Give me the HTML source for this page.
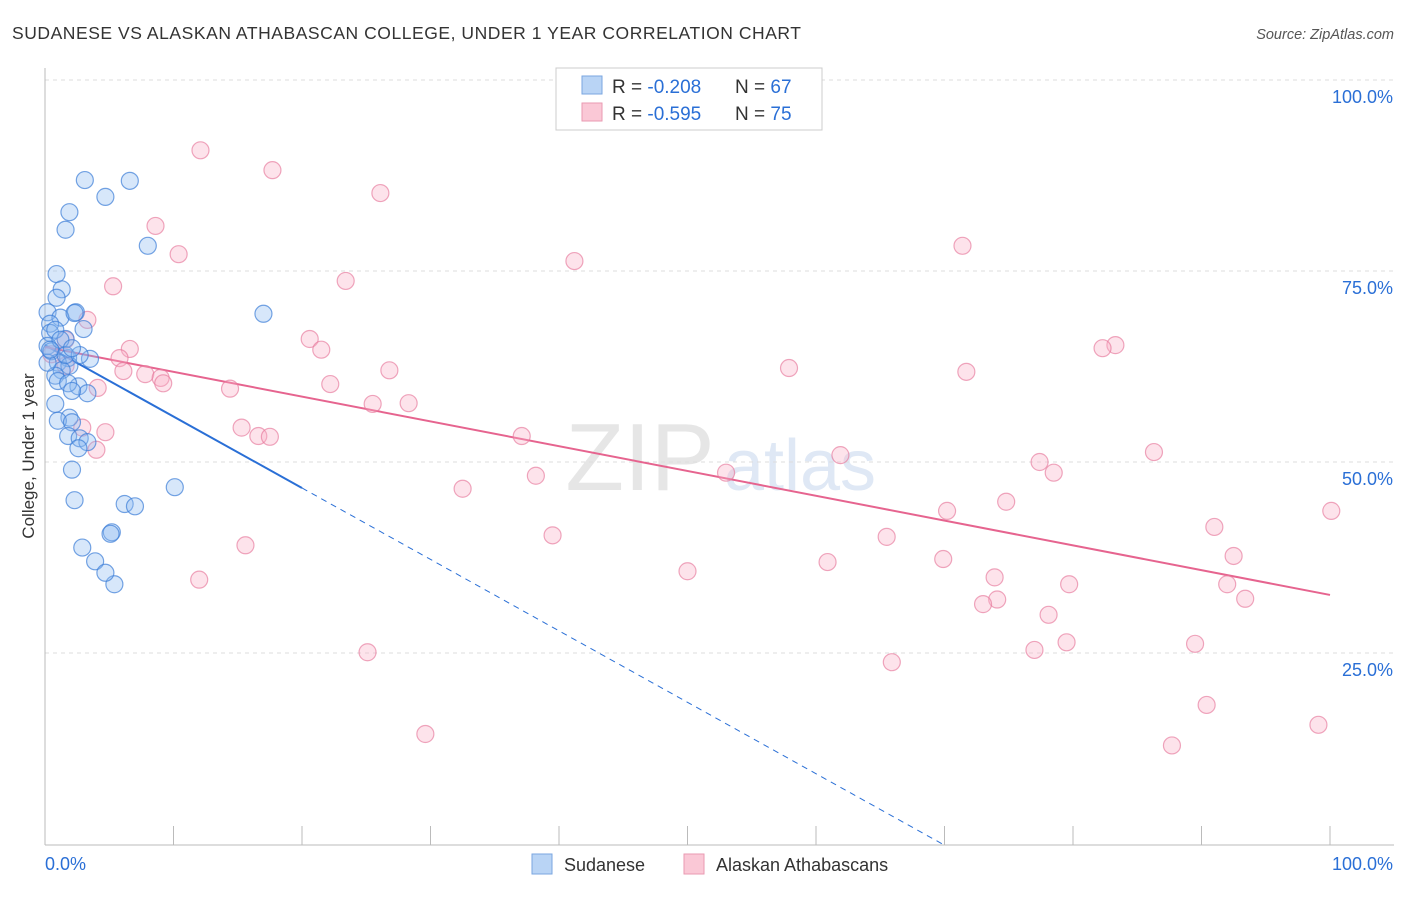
<!DOCTYPE html>
<html><head><meta charset="utf-8">
<style>
body{margin:0;background:#fff;font-family:"Liberation Sans",sans-serif;}
svg text{font-family:"Liberation Sans",sans-serif;}
</style></head>
<body>
<svg id="chart" width="1406" height="892">
<text x="12" y="39" font-size="17.5" fill="#333" textLength="789">SUDANESE VS ALASKAN ATHABASCAN COLLEGE, UNDER 1 YEAR CORRELATION CHART</text>
<text x="1394" y="39" font-size="14.5" fill="#555" font-style="italic" text-anchor="end">Source: ZipAtlas.com</text>
<text x="640" y="490" font-size="96" fill="#e6e6e6" font-family="Liberation Serif" text-anchor="middle">ZIP</text>
<text x="800" y="490" font-size="72" fill="#dfe8f5" text-anchor="middle">atlas</text>
<g id="grid"></g>
<g id="axes"></g>
<g id="lines"></g>
<g id="points"></g>
<text transform="translate(34,456) rotate(-90)" font-size="17" fill="#333" text-anchor="middle">College, Under 1 year</text>
<g>
<rect x="556" y="68" width="266" height="62" fill="#fff" stroke="#ccc"/>
<rect x="582" y="76" width="20" height="18" fill="#b9d4f5" stroke="#7aa6e0"/>
<rect x="582" y="103" width="20" height="18" fill="#fac8d6" stroke="#e99ab2"/>
<text x="612" y="93" font-size="19" fill="#333">R = <tspan fill="#2a6fd6">-0.208</tspan></text>
<text x="735" y="93" font-size="19" fill="#333">N = <tspan fill="#2a6fd6">67</tspan></text>
<text x="612" y="120" font-size="19" fill="#333">R = <tspan fill="#2a6fd6">-0.595</tspan></text>
<text x="735" y="120" font-size="19" fill="#333">N = <tspan fill="#2a6fd6">75</tspan></text>
</g>
<g>
<rect x="532" y="854" width="20" height="20" fill="#b9d4f5" stroke="#7aa6e0"/>
<text x="564" y="871" font-size="18" fill="#333">Sudanese</text>
<rect x="684" y="854" width="20" height="20" fill="#fac8d6" stroke="#e99ab2"/>
<text x="716" y="871" font-size="18" fill="#333">Alaskan Athabascans</text>
</g>
<text x="45" y="870" font-size="18" fill="#2a6fd6">0.0%</text>
<text x="1393" y="870" font-size="18" fill="#2a6fd6" text-anchor="end">100.0%</text>
</svg>
<script>
const yTicks=[100,75,50,25];
const yTickLabels=["100.0%","75.0%","50.0%","25.0%"];
const xTicks=[0,10,20,30,40,50,60,70,80,90,100];
const blueX=[3.1,6.6,4.7,1.9,1.6,8.0,0.9,1.3,0.9,0.2,2.4,1.2,2.3,17.0,0.4,3.0,0.4,1.6,0.2,0.5,3.5,1.8,1.0,1.9,1.3,0.8,1.0,2.6,1.8,3.3,2.1,0.8,1.9,1.0,2.1,1.8,2.7,3.3,2.6,2.1,10.1,2.3,6.2,7.0,5.2,5.1,2.9,3.9,5.4,4.7,0.2,0.8,1.2,1.6,0.4,2.7,2.1];
const blueY=[86.9,86.8,84.7,82.7,80.4,78.3,74.6,72.6,71.5,69.6,69.6,68.9,69.5,69.4,68.1,67.4,66.9,66.1,65.2,64.5,63.5,63.6,63.0,62.6,62.0,61.3,60.6,59.9,60.3,59.0,59.3,57.6,55.8,55.4,55.2,53.4,53.1,52.6,51.8,49.0,46.7,45.0,44.5,44.2,40.8,40.6,38.8,37.0,34.0,35.5,63.0,67.3,66.0,64.0,64.7,64.0,64.9];
const pinkX=[12.1,17.7,26.1,8.6,10.4,41.2,71.4,5.3,23.4,3.3,20.6,21.5,1.6,83.3,82.3,6.6,5.8,0.5,6.1,7.8,9.0,9.2,22.2,26.8,57.9,71.7,4.1,14.4,25.5,28.3,2.9,4.7,4.0,15.3,16.6,17.5,37.1,61.9,86.3,77.4,78.5,53.0,38.2,32.5,74.8,70.2,100.1,91.0,39.5,65.5,92.5,15.6,69.9,60.9,50.0,73.9,12.0,79.7,92.0,93.4,74.1,73.0,78.1,79.5,25.1,77.0,89.5,65.9,90.4,99.1,29.6,87.7,1.6];
const pinkY=[90.8,88.2,85.2,80.9,77.2,76.3,78.3,73.0,73.7,68.6,66.1,64.7,66.0,65.3,64.9,64.8,63.6,64.1,61.9,61.5,61.0,60.3,60.2,62.0,62.3,61.8,59.7,59.6,57.6,57.7,54.5,53.9,51.6,54.5,53.4,53.3,53.4,50.9,51.3,50.0,48.6,48.6,48.2,46.5,44.8,43.6,43.6,41.5,40.4,40.2,37.7,39.1,37.3,36.9,35.7,34.9,34.6,34.0,34.0,32.1,32.0,31.4,30.0,26.4,25.1,25.4,26.2,23.8,18.2,15.6,14.4,12.9,62.6];
const blueFit=[65.3,-0.935];
const pinkFit=[65.05,-0.3245];
const NS="http://www.w3.org/2000/svg";
const X0=45,X1=1330,YB=844,YT=80;
const sx=v=>X0+(X1-X0)*v/100;
const sy=v=>YB-(YB-YT)*v/100;
function mk(t,a,p){const e=document.createElementNS(NS,t);for(const k in a)e.setAttribute(k,a[k]);p.appendChild(e);return e;}
const grid=document.getElementById('grid'),axes=document.getElementById('axes'),lines=document.getElementById('lines'),pts=document.getElementById('points');
yTicks.forEach((v,i)=>{
 const g=mk('line',{x1:X0,x2:1394,y1:sy(v),y2:sy(v),stroke:'#ddd','stroke-dasharray':'4,4'},grid);
 
 
 const t=mk('text',{x:1393,y:sy(v)+23,'font-size':18,fill:'#2a6fd6','text-anchor':'end'},grid);
 t.textContent=yTickLabels[i];
 
 
});
const ax=mk('line',{x1:X0,x2:1394,y1:YB+1,y2:YB+1,stroke:'#bbb'},axes);


const ay=mk('line',{x1:X0,x2:X0,y1:68,y2:YB+1,stroke:'#bbb'},axes);


xTicks.forEach(v=>{
 const t=mk('line',{x1:sx(v),x2:sx(v),y1:YB-18,y2:YB+1,stroke:'#bbb'},axes);
 
 
});
function addPts(xs,ys,fill,stroke,name){
 xs.forEach((x,i)=>{
  const c=mk('circle',{cx:sx(x),cy:sy(ys[i]),r:8.5,fill:fill,stroke:stroke,'stroke-width':1.2},pts);
  
  
 });
}
addPts(pinkX,pinkY,'rgba(248,175,198,0.35)','rgba(230,120,155,0.65)','alaskan-point');
addPts(blueX,blueY,'rgba(140,185,240,0.35)','rgba(60,125,215,0.7)','sudanese-point');
const fb=x=>blueFit[0]+blueFit[1]*x, fp=x=>pinkFit[0]+pinkFit[1]*x;
const xEnd=-blueFit[0]/blueFit[1];
const l1=mk('line',{x1:sx(0),y1:sy(fb(0)),x2:sx(20),y2:sy(fb(20)),stroke:'#2a6fd6','stroke-width':2},lines);


const l2=mk('line',{x1:sx(20),y1:sy(fb(20)),x2:sx(xEnd),y2:sy(0),stroke:'#2a6fd6','stroke-width':1,'stroke-dasharray':'6,5'},lines);


const l3=mk('line',{x1:sx(0),y1:sy(fp(0)),x2:sx(100),y2:sy(fp(100)),stroke:'#e6648f','stroke-width':2},lines);


</script>
</body></html>
